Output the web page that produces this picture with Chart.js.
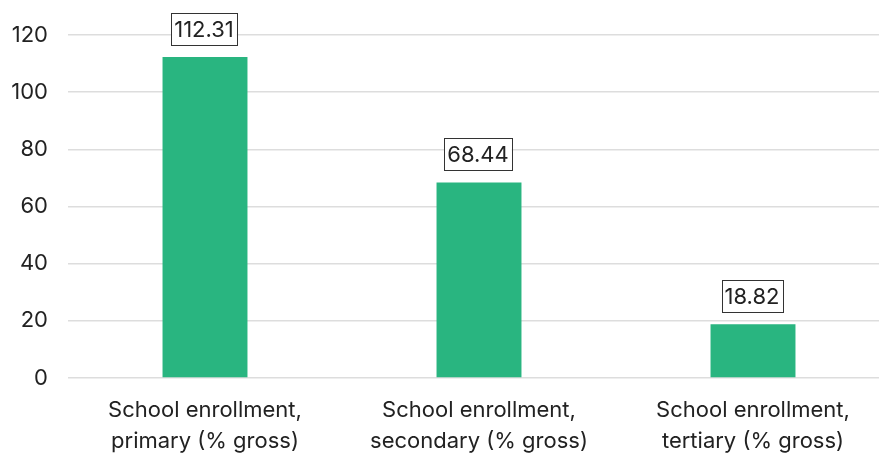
<!DOCTYPE html>
<html>
<head>
<meta charset="utf-8">
<script src="https://cdn.jsdelivr.net/npm/chart.js@4.4.1/dist/chart.umd.min.js"></script>
<style>
html,body{margin:0;padding:0;overflow:hidden;background:#fff;}
#wrap{position:relative;width:890px;height:462px;}
</style>
</head>
<body>
<div id="wrap"><canvas id="c"></canvas></div>
<script>
const categories = [
  ["School enrollment,", "primary (% gross)"],
  ["School enrollment,", "secondary (% gross)"],
  ["School enrollment,", "tertiary (% gross)"]
];
const values = [112.31, 68.44, 18.82];
const yTicks = [0, 20, 40, 60, 80, 100, 120];

const FONT = "Inter, 'Open Sans', sans-serif";

const boxLabels = {
  id: 'boxLabels',
  afterDatasetsDraw(chart) {
    const ctx = chart.ctx;
    const meta = chart.getDatasetMeta(0);
    ctx.save();
    ctx.font = "22px " + FONT;
    ctx.textAlign = 'center';
    ctx.textBaseline = 'middle';
    meta.data.forEach((bar, i) => {
      const txt = values[i].toFixed(2);
      const w = ctx.measureText(txt).width + 6;
      const h = 32;
      const cx = bar.x - 1;
      const bottom = bar.y - 12;
      ctx.fillStyle = '#fff';
      ctx.fillRect(cx - w/2, bottom - h, w, h);
      ctx.strokeStyle = '#333';
      ctx.lineWidth = 1;
      ctx.strokeRect(Math.round(cx - w/2) + 0.5, Math.round(bottom - h) + 0.5, Math.round(w), h);
      ctx.fillStyle = '#222';
      ctx.fillText(txt, cx, bottom - h/2 + 1);
    });
    ctx.restore();
  }
};

new Chart(document.getElementById('c'), {
  type: 'bar',
  data: {
    labels: categories,
    datasets: [{
      data: values,
      backgroundColor: '#29b580',
      borderWidth: 0,
      barPercentage: 0.62,
      categoryPercentage: 0.5
    }]
  },
  options: {
    responsive: true,
    maintainAspectRatio: false,
    animation: false,
    layout: { padding: { top: 35, left: 0, right: 0, bottom: 0 } },
    plugins: { legend: { display: false }, tooltip: { enabled: false } },
    scales: {
      x: {
        grid: { display: false, drawTicks: false },
        border: { display: false },
        ticks: { color: '#222', font: { family: FONT, size: 22, lineHeight: 1.42 }, padding: 17, maxRotation: 0, autoSkip: false },
        afterFit(axis) { axis.height = 84; }
      },
      y: {
        min: 0, max: 120,
        afterBuildTicks(axis) { axis.ticks = yTicks.map(v => ({ value: v })); },
        grid: { color: '#dddddd', lineWidth: 1.5, drawTicks: false },
        border: { display: false },
        ticks: { color: '#222', font: { family: FONT, size: 22 }, padding: 20 },
        afterFit(axis) { axis.width = 68; }
      }
    }
  },
  plugins: [boxLabels]
});
</script>
</body>
</html>
